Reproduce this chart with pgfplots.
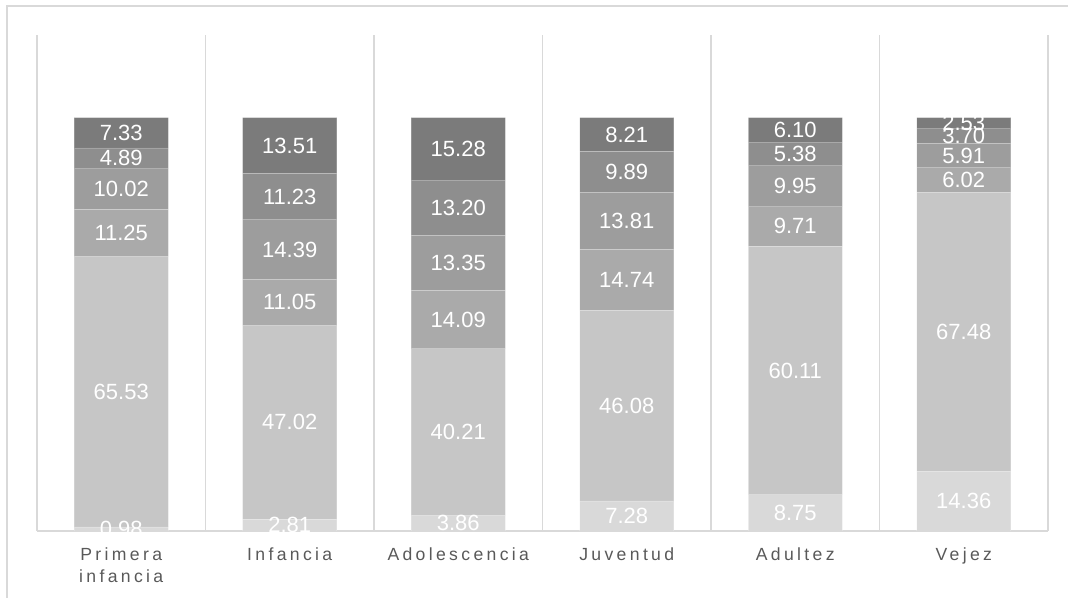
\documentclass[border=0pt]{standalone}
\usepackage{pgfplots}
\pgfplotsset{compat=1.18}
\usepackage{pgfplotstable}
\usepackage{fontspec}
\setmainfont{Liberation Sans}
\newfontfamily\spaced[LetterSpace=19]{Liberation Sans}
\definecolor{c1}{HTML}{D9D9D9}
\definecolor{c2}{HTML}{C6C6C6}
\definecolor{c3}{HTML}{AAAAAA}
\definecolor{c4}{HTML}{9D9D9D}
\definecolor{c5}{HTML}{8E8E8E}
\definecolor{c6}{HTML}{7B7B7B}
\definecolor{gridc}{HTML}{D9D9D9}
\definecolor{labc}{HTML}{595959}
\pgfplotstableread{
x v1 v2 v3 v4 v5 v6
0 0.98 65.53 11.25 10.02 4.89 7.33
1 2.81 47.02 11.05 14.39 11.23 13.51
2 3.86 40.21 14.09 13.35 13.20 15.28
3 7.28 46.08 14.74 13.81 9.89 8.21
4 8.75 60.11 9.71 9.95 5.38 6.10
5 14.36 67.48 6.02 5.91 3.70 2.53
}\data
\pgfplotsset{seg/.style={fill=#1, draw=white, draw opacity=0.2, line width=0.4pt}}
\begin{document}
\begin{tikzpicture}
\useasboundingbox (0,0) rectangle (534pt,299pt);
\draw[gridc, line width=0.9pt] (534pt,296pt) -- (3.5pt,296pt) -- (3.5pt,0pt);
\begin{axis}[
  at={(18.5pt,33.5pt)}, anchor=south west,
  scale only axis, width=505.5pt, height=248pt,
  ybar stacked, bar width=0.558,
  xmin=-0.5, xmax=5.5, ymin=0, ymax=120,
  axis x line*=bottom, axis y line=none,
  x axis line style={draw=gridc, line width=0.9pt},
  xtick={0,...,5},
  xticklabels={{Primera\\infancia},Infancia,Adolescencia,Juventud,Adultez,Vejez},
  xticklabel style={align=center, font=\spaced\fontsize{8.8}{11}\selectfont, text=labc, yshift=-5pt},
  major tick length=0pt,
  ytick=\empty,
  extra x ticks={-0.5,0.5,1.5,2.5,3.5,4.5,5.5},
  extra x tick labels={},
  extra x tick style={grid=major, major grid style={draw=gridc, line width=0.9pt}},
  point meta=explicit symbolic,
  nodes near coords,
  every node near coord/.append style={anchor=center,
     font=\fontsize{11}{12}\selectfont, text=white},
]
\addplot[seg=c1] table[x=x,y=v1,meta=v1]{\data};
\addplot[seg=c2] table[x=x,y=v2,meta=v2]{\data};
\addplot[seg=c3] table[x=x,y=v3,meta=v3]{\data};
\addplot[seg=c4] table[x=x,y=v4,meta=v4]{\data};
\addplot[seg=c5] table[x=x,y=v5,meta=v5]{\data};
\addplot[seg=c6] table[x=x,y=v6,meta=v6]{\data};
\end{axis}
\end{tikzpicture}
\end{document}
